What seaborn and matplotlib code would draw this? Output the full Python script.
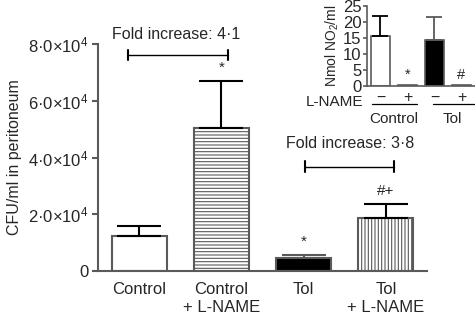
import numpy as np
import pandas as pd
import matplotlib
matplotlib.use("Agg")
import matplotlib.pyplot as plt
import seaborn as sns

# ── Data ────────────────────────────────────────────────────────────────────
groups = ["Control", "Control\n+ L-NAME", "Tol", "Tol\n+ L-NAME"]
cfu_mean = [12400, 50300, 4700, 18800]
cfu_err = [3500, 16600, 900, 4700]
yticks = [0, 20000, 40000, 60000, 80000]
ytick_labels = ["0", "2·0×10$^4$", "4·0×10$^4$", "6·0×10$^4$", "8·0×10$^4$"]
marks = ["", "*", "*", "#+"]

no2_groups = ["Control -", "Control +", "Tol -", "Tol +"]
no2_mean = [15.5, 0.4, 14.3, 0.4]
no2_err = [6.3, 0.0, 7.2, 0.0]
no2_marks = ["", "*", "", "#"]
lname_labels = ["−", "+", "−", "+"]

sns.set_style("ticks")
plt.rcParams["font.family"] = ["Liberation Sans", "DejaVu Sans"]
plt.rcParams["mathtext.fontset"] = "custom"
plt.rcParams["mathtext.rm"] = "Liberation Sans"
plt.rcParams["mathtext.it"] = "Liberation Sans:italic"
plt.rcParams["hatch.linewidth"] = 0.8
plt.rcParams["hatch.color"] = "#3a3a3a"

GRAY = "#5a5a5a"

fig = plt.figure(figsize=(4.75, 3.19), dpi=100)
ax = fig.add_axes([0.2063, 0.1505, 0.6927, 0.7115])

df = pd.DataFrame({"group": groups, "cfu": cfu_mean})
sns.barplot(data=df, x="group", y="cfu", ax=ax, width=0.67,
            color="white", edgecolor=GRAY, linewidth=1.5, errorbar=None)

fills = ["white", "white", "black", "white"]
hatches = [None, "-----", None, "|||||"]
for bar, fc, h in zip(ax.patches, fills, hatches):
    bar.set_facecolor(fc)
    if h:
        bar.set_hatch(h)

xpos = np.arange(len(groups))
for i in range(len(groups)):
    col = GRAY if fills[i] == "black" else "black"
    ax.errorbar(xpos[i], cfu_mean[i], yerr=[[0], [cfu_err[i]]], fmt="none",
                ecolor=col, elinewidth=1.5, capsize=15.5, capthick=1.5)
    if marks[i]:
        ax.text(xpos[i], cfu_mean[i] + cfu_err[i] + 2200, marks[i],
                ha="center", va="bottom", fontsize=11)

# fold increase brackets
def bracket(x0, x1, y, label, ly, lx):
    ax.plot([x0, x1], [y, y], color="black", lw=1.0, clip_on=False)
    ax.plot([x0, x0], [y - 1900, y + 1900], color="black", lw=1.5, clip_on=False)
    ax.plot([x1, x1], [y - 1900, y + 1900], color="black", lw=1.5, clip_on=False)
    ax.text(lx, ly, label, ha="center", va="center", fontsize=11.5, clip_on=False)

bracket(-0.14, 1.08, 76100, "Fold increase: 4·1", 83500, 0.45)
bracket(2.02, 3.10, 36800, "Fold increase: 3·8", 44900, 2.56)

ax.set_xlim(-0.5, 3.5)
ax.set_ylim(0, 80000)
ax.set_yticks(yticks)
ax.set_yticklabels(ytick_labels, fontsize=12)
ax.set_xticks(xpos)
ax.set_xticklabels(groups, fontsize=12, linespacing=1.25)
ax.tick_params(axis="x", length=0, pad=8)
ax.tick_params(axis="y", length=4, width=1.5, color=GRAY, pad=3)
ax.set_xlabel("")
ax.set_ylabel("CFU/ml in peritoneum", fontsize=11.5, labelpad=4)
sns.despine(ax=ax)
for s in ["left", "bottom"]:
    ax.spines[s].set_color(GRAY)
    ax.spines[s].set_linewidth(1.5)

# ── Inset: nitrite ──────────────────────────────────────────────────────────
ins = fig.add_axes([0.7726, 0.7304, 0.2274, 0.2508])
dfi = pd.DataFrame({"g": no2_groups, "no2": no2_mean})
sns.barplot(data=dfi, x="g", y="no2", ax=ins, width=0.7, color="white",
            edgecolor=GRAY, linewidth=1.2, errorbar=None)
for bar, fc in zip(ins.patches, ["white", "white", "black", "white"]):
    bar.set_facecolor(fc)
ipos = np.arange(len(no2_groups))
for i in range(len(no2_groups)):
    if no2_err[i] > 0:
        ins.errorbar(ipos[i], no2_mean[i], yerr=[[0], [no2_err[i]]], fmt="none",
                     ecolor=GRAY if i == 2 else "black", elinewidth=1.3,
                     capsize=5.5, capthick=1.3)
    if no2_marks[i]:
        ins.text(ipos[i], no2_mean[i] + 1.0, no2_marks[i], ha="center",
                 va="bottom", fontsize=10.5)
ins.set_xlim(-0.5, 3.5)
ins.set_ylim(0, 25)
ins.set_yticks([0, 5, 10, 15, 20, 25])
ins.tick_params(axis="y", labelsize=12, length=3, width=1.2, color=GRAY, pad=1)
ins.set_xticks(ipos)
ins.set_xticklabels(lname_labels, fontsize=11.5)
ins.tick_params(axis="x", length=0, pad=3)
ins.set_xlabel("")
ins.set_ylabel("Nmol NO$_2$/ml", fontsize=10, labelpad=1)
ins.yaxis.set_label_coords(-0.24, 0.5)
sns.despine(ax=ins)
for s in ["left", "bottom"]:
    ins.spines[s].set_color(GRAY)
    ins.spines[s].set_linewidth(1.2)

tr = ins.get_xaxis_transform()
ins.text(-0.62, -0.2, "L-NAME", transform=tr, ha="right", va="center",
         fontsize=11)
ins.plot([-0.31, 1.35], [-0.23, -0.23], transform=tr, color="black",
         lw=0.9, clip_on=False)
ins.plot([1.95, 3.5], [-0.23, -0.23], transform=tr, color="black",
         lw=0.9, clip_on=False)
ins.text(0.5, -0.41, "Control", transform=tr, ha="center", va="center",
         fontsize=11)
ins.text(2.65, -0.41, "Tol", transform=tr, ha="center", va="center",
         fontsize=11)

fig.savefig("out.png", dpi=100)
